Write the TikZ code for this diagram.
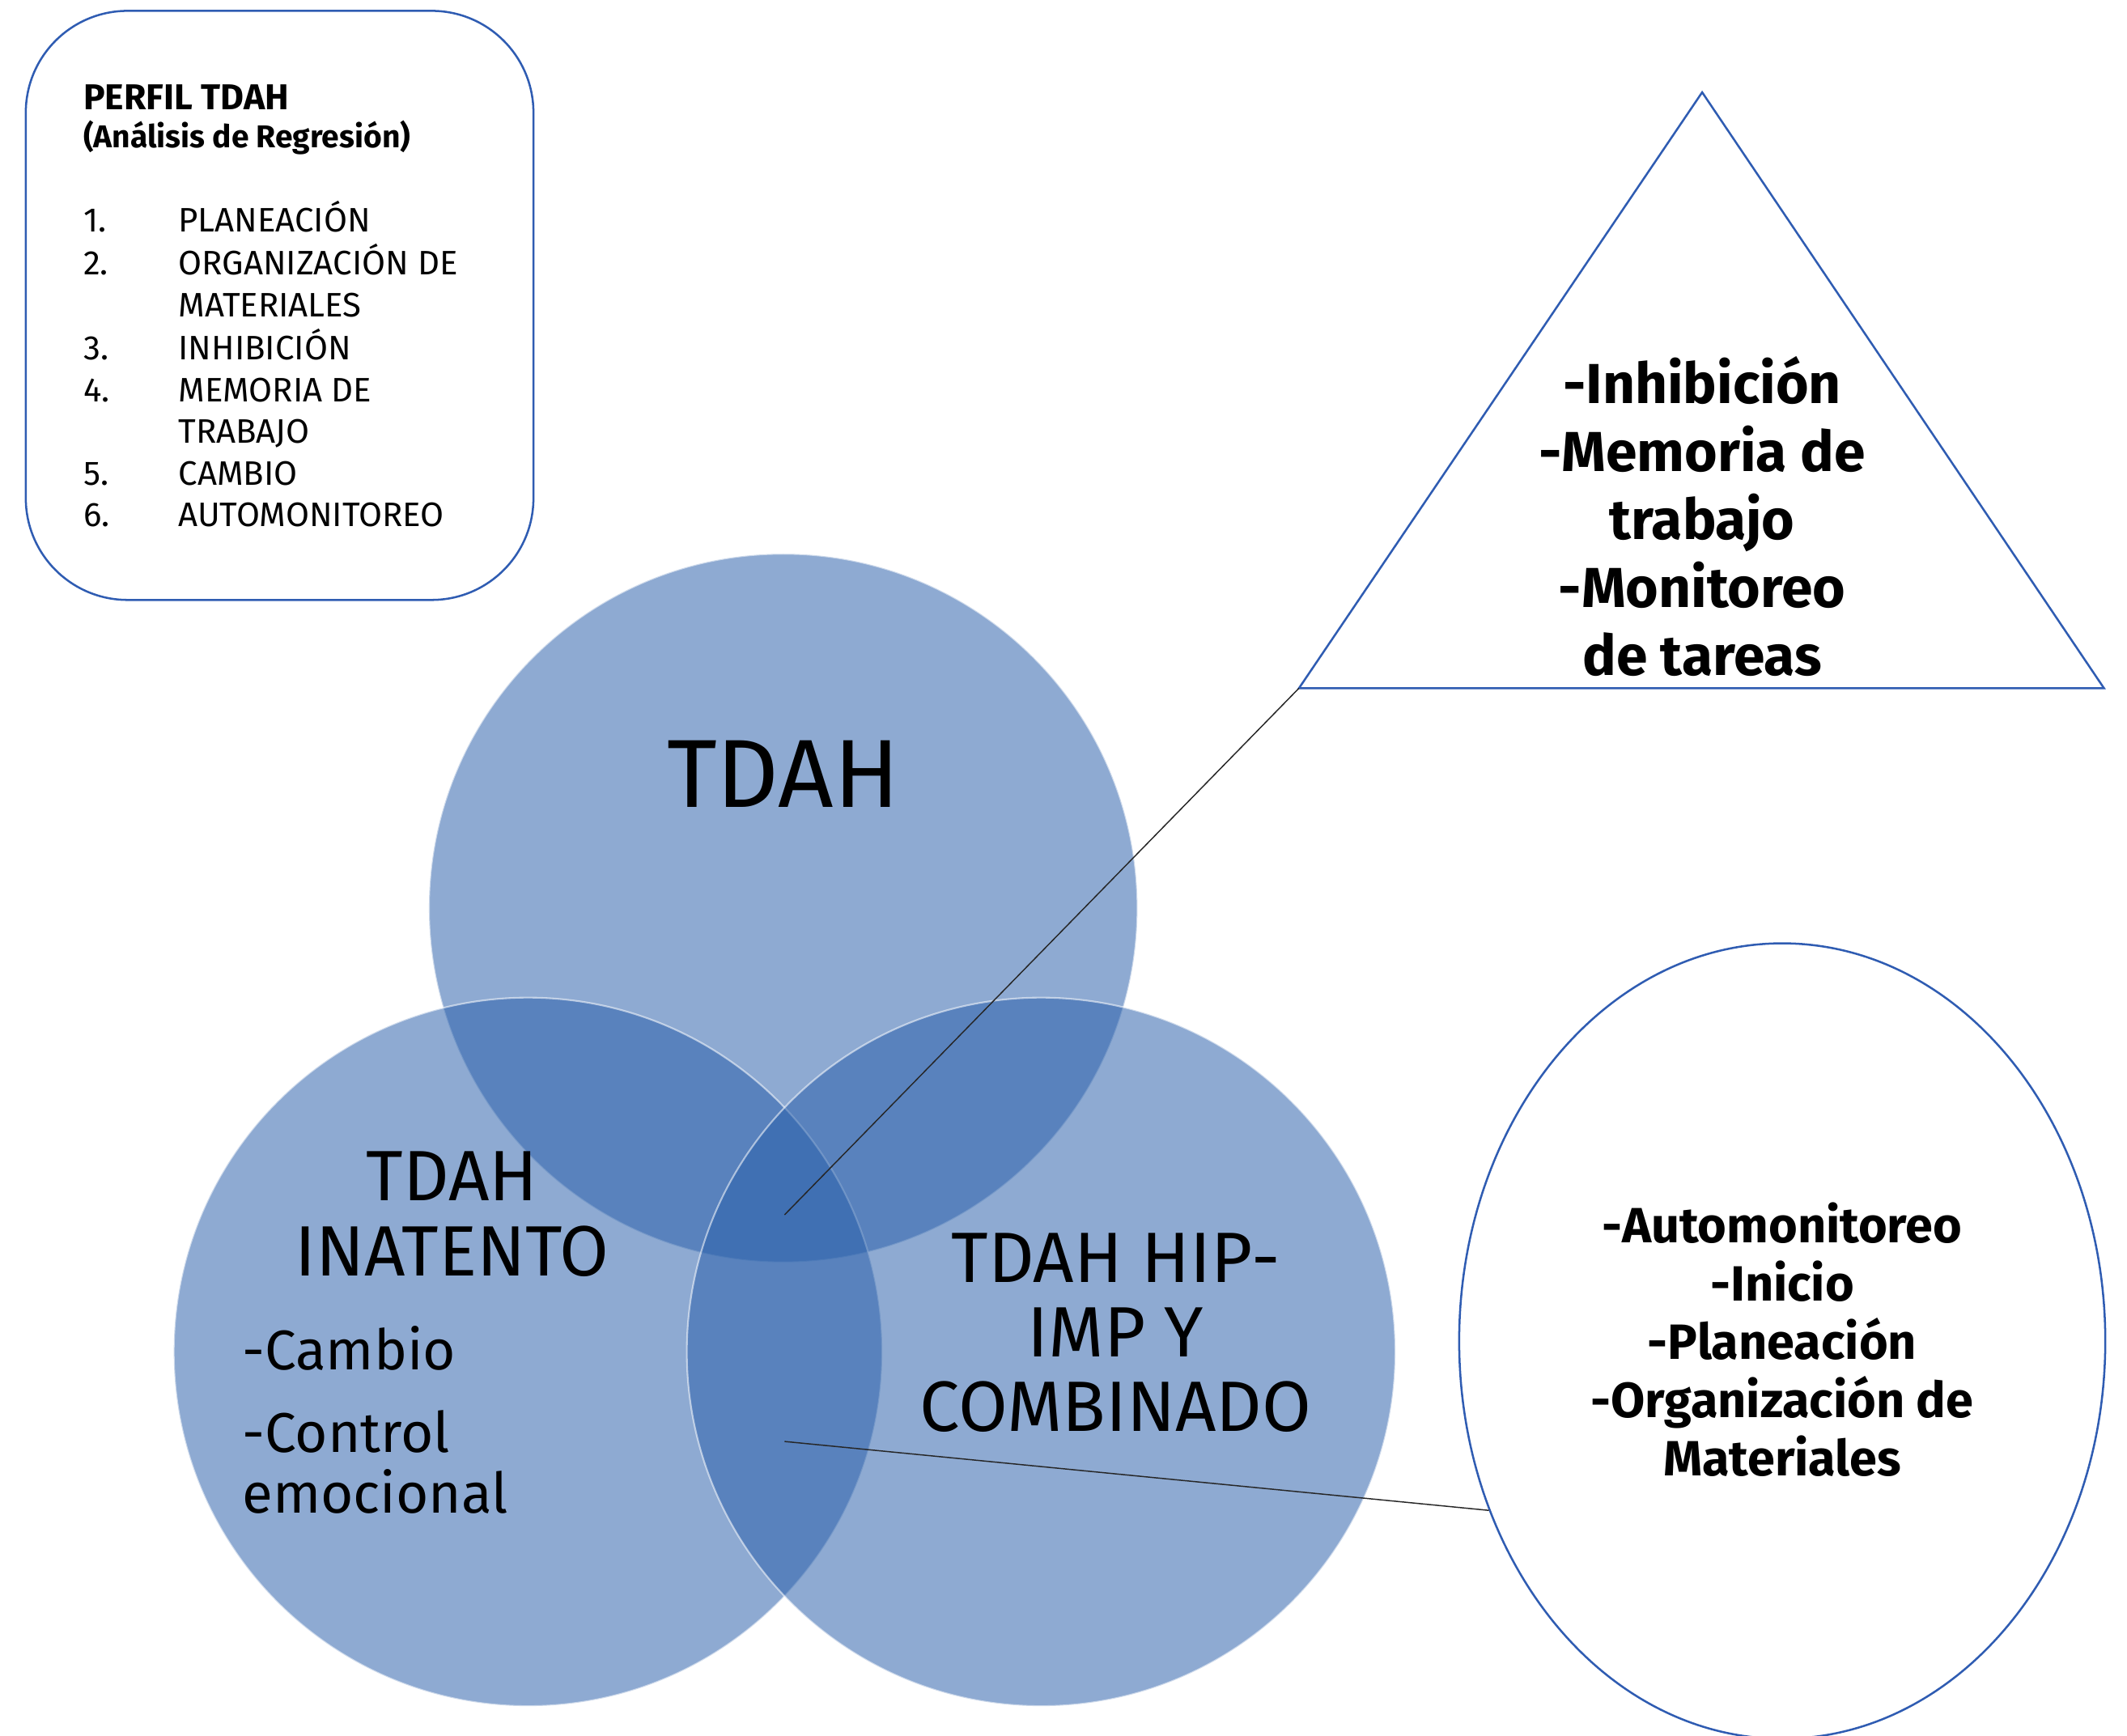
\documentclass[tikz,border=0pt]{standalone}
\usepackage{fontspec}
\setmainfont{Fira Sans}
\usetikzlibrary{shapes.geometric}
\definecolor{venn}{RGB}{42,96,171}
\definecolor{edgeblue}{RGB}{47,92,178}
\tikzset{
  venncircle/.style={circle, minimum size=208.8pt, inner sep=0pt, fill=venn, fill opacity=0.53, draw=white, draw opacity=0.55, line width=0.5pt},
  outline/.style={draw=edgeblue, line width=0.6pt},
  conn/.style={draw=black!85, line width=0.35pt},
  lbl/.style={inner sep=0pt, align=center, text=black}
}
\begin{document}
\begin{tikzpicture}[x=0.4pt, y=-0.4pt]
\useasboundingbox (0,0) rectangle (1567,1279);
\fill[white] (0,0) rectangle (1567,1279);

% rounded box
\draw[outline, rounded corners=30pt] (19,8) rectangle (393,442);
\node[anchor=base west, inner sep=0pt, font=\bfseries\fontsize{10.6}{12}\selectfont] (ptitle) at (61,81) {PERFIL TDAH};
\node[anchor=base west, inner sep=0pt, font=\bfseries\fontsize{9.3}{11}\selectfont] (psub) at (61,109) {(Análisis de Regresión)};
\node[anchor=base west, inner sep=0pt, font=\fontsize{10}{12.27}\selectfont] (plist) at (61,170.6) {%
\renewcommand\arraystretch{1}%
\begin{tabular}[t]{@{}p{28pt}@{}l@{}}
1. & PLANEACIÓN\\
2. & ORGANIZACIÓN DE\\
   & MATERIALES\\
3. & INHIBICIÓN\\
4. & MEMORIA DE\\
   & TRABAJO\\
5. & CAMBIO\\
6. & AUTOMONITOREO
\end{tabular}};

% triangle
\coordinate (triTop) at (1254,68);
\coordinate (triL) at (957,507);
\coordinate (triR) at (1550,507);
\draw[outline, line join=miter] (triTop) -- (triR) -- (triL) -- cycle;
\node[lbl, font=\bfseries\fontsize{16.6}{20}\selectfont] (tritext) at (1254,380.5) {-Inhibición\\-Memoria de\\trabajo\\-Monitoreo\\de tareas};

% ellipse
\node[ellipse, outline, minimum width=190.4pt, minimum height=234.4pt, inner sep=0pt] (ell) at (1313,988) {};
\node[lbl, font=\bfseries\fontsize{14.6}{17.2}\selectfont] (elltext) at (1313,987) {-Automonitoreo\\-Inicio\\-Planeación\\-Organización de\\Materiales};

% venn circles
\node[venncircle] (ctop) at (577,669) {};
\node[venncircle] (cleft) at (389,996) {};
\node[venncircle] (cright) at (767,996) {};

% centre points of connectors
\coordinate (mid1) at (578,895);
\coordinate (mid2) at (578,1062);

% labels
\node[lbl, font=\fontsize{28.5}{33}\selectfont] (ltop) at (577,570) {TDAH};
\node[lbl, font=\fontsize{21}{22}\selectfont] (lleft) at (333,894.5) {TDAH\\INATENTO};
\node[lbl, anchor=base west, font=\fontsize{16.5}{18}\selectfont] (lcambio) at (178,1009) {-Cambio};
\node[lbl, anchor=base west, font=\fontsize{16.5}{18}\selectfont] (lcontrol) at (178,1070) {-Control};
\node[lbl, anchor=base west, font=\fontsize{16.5}{18}\selectfont] (lemoc) at (178,1115) {emocional};
\node[lbl, font=\fontsize{21}{22}\selectfont] (lright) at (822,982) {TDAH HIP-\\IMP Y\\COMBINADO};

% connectors
\draw[conn] (mid1) -- (triL);
\draw[conn] (mid2) -- (ell.210);
\end{tikzpicture}
\end{document}
